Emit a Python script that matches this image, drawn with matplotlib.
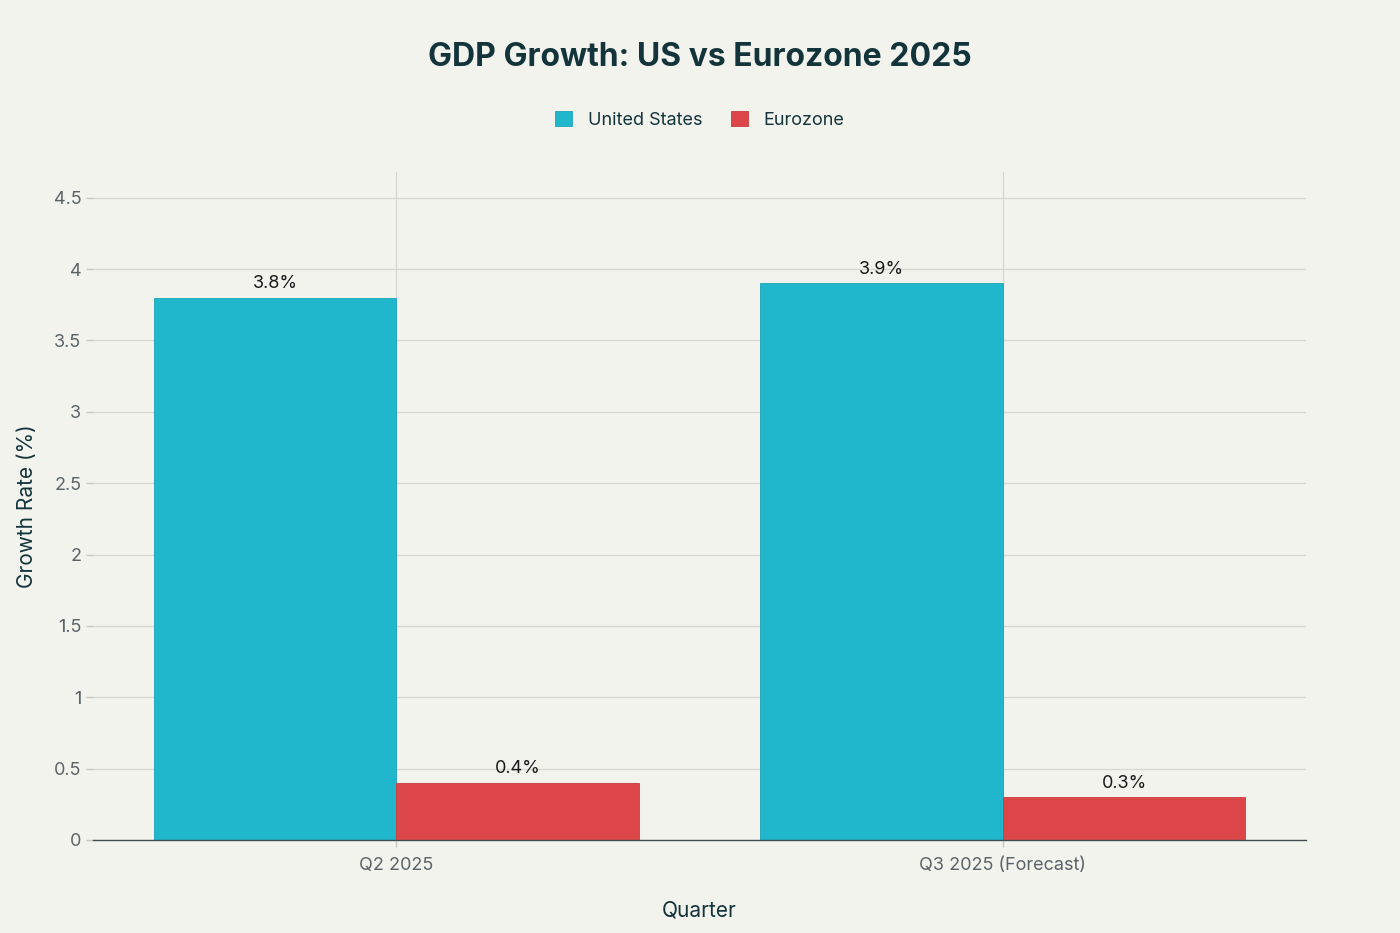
import matplotlib
matplotlib.use("Agg")
import matplotlib.pyplot as plt
import numpy as np

plt.rcParams['font.family'] = ['Inter', 'DejaVu Sans']

quarters = ['Q2 2025', 'Q3 2025 (Forecast)']
us_growth = [3.8, 3.9]
ez_growth = [0.4, 0.3]
yticks = [0, 0.5, 1, 1.5, 2, 2.5, 3, 3.5, 4, 4.5]
ytick_labels = ['0', '0.5', '1', '1.5', '2', '2.5', '3', '3.5', '4', '4.5']

bg = '#f3f3ee'
us_color = '#20b6cc'
ez_color = '#dc4648'
dark = '#13343b'
grid = '#d6d6d0'

fig = plt.figure(figsize=(14, 9.33), dpi=100, facecolor=bg)
ax = fig.add_axes([93 / 1400, 1 - 840 / 933, (1306 - 93) / 1400, (840 - 172) / 933])
ax.set_facecolor(bg)

x = np.arange(len(quarters))
w = 0.4
b1 = ax.bar(x - w / 2, us_growth, w, color=us_color, edgecolor='#1aa3b8', linewidth=0.6,
            label='United States', zorder=3)
b2 = ax.bar(x + w / 2, ez_growth, w, color=ez_color, edgecolor='#c93c3e', linewidth=0.6,
            label='Eurozone', zorder=3)

for bars, vals in [(b1, us_growth), (b2, ez_growth)]:
    for r, v in zip(bars, vals):
        ax.annotate(f'{v}%', (r.get_x() + r.get_width() / 2, v), xytext=(0, 4),
                    textcoords='offset points', ha='center', va='bottom',
                    fontsize=13, color='#1a1a1a', zorder=4)

ax.set_xlim(-0.5, 1.5)
ax.set_ylim(0, 4.68)
ax.set_xticks(x)
ax.set_xticklabels(quarters)
ax.set_yticks(yticks)
ax.set_yticklabels(ytick_labels)
ax.tick_params(axis='both', colors='#c8c8c2', labelcolor='#5a6468', labelsize=13, length=5, width=1)
ax.tick_params(axis='x', pad=7)

ax.grid(True, color=grid, linewidth=0.9, zorder=0)
for s in ['top', 'right', 'left']:
    ax.spines[s].set_visible(False)
ax.spines['bottom'].set_color('#444c50')
ax.spines['bottom'].set_linewidth(1)
ax.spines['bottom'].set_zorder(5)

ax.set_ylabel('Growth Rate (%)', fontsize=15, color=dark, labelpad=12)
ax.set_xlabel('Quarter', fontsize=15, color=dark, labelpad=19)

fig.text(0.5, 1 - 57 / 933, 'GDP Growth: US vs Eurozone 2025', ha='center', va='center',
         fontsize=23, fontweight='bold', color=dark)
fig.legend(handles=[b1, b2], loc='center', bbox_to_anchor=(0.5, 1 - 120 / 933), ncol=2,
           frameon=False, fontsize=13, handlelength=0.9, handleheight=0.9,
           columnspacing=1.6, handletextpad=0.9, labelcolor=dark)

fig.savefig('out.png', dpi=100, facecolor=bg)
